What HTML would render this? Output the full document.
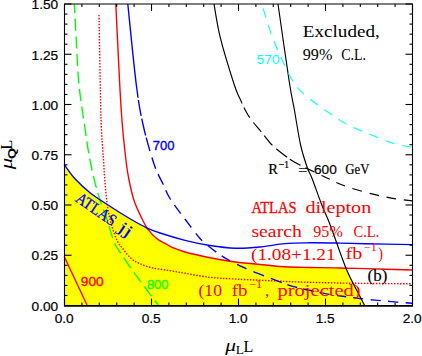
<!DOCTYPE html>
<html><head><meta charset="utf-8"><style>
html,body{margin:0;padding:0;background:#fff;}
svg{display:block;}
text{font-family:"Liberation Sans",sans-serif;}
.se{font-family:"Liberation Serif",serif;}
.mo{font-family:"Liberation Mono",monospace;}
.b{stroke-width:0.35;paint-order:stroke;}
</style></head><body>
<svg width="422" height="356" viewBox="0 0 422 356">
<rect width="422" height="356" fill="#fff"/>
<defs><clipPath id="ca"><path d="M64.20,164.50 C66.00,166.88 70.70,174.10 75.00,178.80 C79.30,183.50 84.12,188.08 90.00,192.70 C95.88,197.32 103.57,202.12 110.30,206.50 C117.03,210.88 124.33,215.45 130.40,219.00 C136.47,222.55 141.77,225.47 146.70,227.80 C151.63,230.13 153.62,230.92 160.00,233.00 C166.38,235.08 176.67,238.22 185.00,240.30 C193.33,242.38 201.60,244.18 210.00,245.50 C218.40,246.82 227.07,247.95 235.40,248.20 C243.73,248.45 251.73,247.77 260.00,247.00 C268.27,246.23 276.67,244.30 285.00,243.60 C293.33,242.90 301.60,242.90 310.00,242.80 C318.40,242.70 326.15,242.83 335.40,243.00 C344.65,243.17 352.73,243.53 365.50,243.80 C378.27,244.07 404.25,244.47 412.00,244.60 L412.3,305 L64.2,305 Z"/></clipPath><clipPath id="cb"><path d="M115.80,4.00 C116.45,17.33 118.62,63.92 119.70,84.00 C120.78,104.08 121.20,111.33 122.30,124.50 C123.40,137.67 125.18,153.75 126.30,163.00 C127.42,172.25 127.68,173.67 129.00,180.00 C130.32,186.33 132.05,194.58 134.20,201.00 C136.35,207.42 139.67,213.85 141.90,218.50 C144.13,223.15 145.08,225.52 147.60,228.90 C150.12,232.28 154.10,236.40 157.00,238.80 C159.90,241.20 162.40,241.83 165.00,243.30 C167.60,244.77 169.27,246.15 172.60,247.60 C175.93,249.05 178.77,250.32 185.00,252.00 C191.23,253.68 201.60,256.03 210.00,257.70 C218.40,259.37 226.15,260.78 235.40,262.00 C244.65,263.22 257.23,264.20 265.50,265.00 C273.77,265.80 277.58,266.38 285.00,266.80 C292.42,267.22 301.67,267.32 310.00,267.50 C318.33,267.68 325.75,267.72 335.00,267.90 C344.25,268.08 352.58,268.25 365.50,268.60 C378.42,268.95 404.67,269.77 412.50,270.00 L412.3,305 L64.2,305 L64.2,4 Z"/></clipPath><clipPath id="cc"><path d="M278.00,4.00 C279.88,17.00 286.57,64.33 289.30,82.00 C292.03,99.67 292.52,99.50 294.40,110.00 C296.28,120.50 298.43,135.33 300.60,145.00 C302.77,154.67 305.52,162.50 307.40,168.00 C309.28,173.50 309.48,171.78 311.90,178.00 C314.32,184.22 318.78,197.30 321.90,205.30 C325.02,213.30 326.53,215.38 330.60,226.00 C334.67,236.62 341.40,257.25 346.30,269.00 C351.20,280.75 356.95,290.42 360.00,296.50 C363.05,302.58 363.83,304.00 364.60,305.50 L64.2,305 L64.2,4 Z"/></clipPath></defs>
<g clip-path="url(#ca)"><g clip-path="url(#cb)"><g clip-path="url(#cc)"><rect x="64" y="4" width="349" height="301" fill="#ffff00"/></g></g></g>
<g fill="none" stroke-width="1.38">
<path d="M74.30,4.00 C74.67,10.83 75.72,31.50 76.50,45.00 C77.28,58.50 77.68,71.75 79.00,85.00 C80.32,98.25 82.57,112.00 84.40,124.50 C86.23,137.00 87.78,148.63 90.00,160.00 C92.22,171.37 94.95,183.07 97.70,192.70 C100.45,202.33 103.83,209.75 106.50,217.80 C109.17,225.85 111.78,235.80 113.70,241.00 C115.62,246.20 114.87,244.08 118.00,249.00 C121.13,253.92 127.93,264.00 132.50,270.50 C137.07,277.00 141.12,282.25 145.40,288.00 C149.68,293.75 156.07,302.17 158.20,305.00" stroke="#00ff00" stroke-dasharray="12.2 5.4" stroke-dashoffset="2.87"/>
<path d="M99.00,15.00 C99.20,25.83 99.83,61.75 100.20,80.00 C100.57,98.25 100.65,111.17 101.20,124.50 C101.75,137.83 102.83,149.92 103.50,160.00 C104.17,170.08 104.50,177.05 105.20,185.00 C105.90,192.95 106.65,201.03 107.70,207.70 C108.75,214.37 109.90,219.45 111.50,225.00 C113.10,230.55 115.30,236.92 117.30,241.00 C119.30,245.08 121.25,246.63 123.50,249.50 C125.75,252.37 128.17,255.87 130.80,258.20 C133.43,260.53 135.67,261.87 139.30,263.50 C142.93,265.13 147.55,266.82 152.60,268.00 C157.65,269.18 164.20,269.72 169.60,270.60 C175.00,271.48 178.27,272.18 185.00,273.30 C191.73,274.42 201.67,276.35 210.00,277.30 C218.33,278.25 225.75,278.47 235.00,279.00 C244.25,279.53 254.67,280.00 265.50,280.50 C276.33,281.00 285.92,281.55 300.00,282.00 C314.08,282.45 331.33,282.90 350.00,283.20 C368.67,283.50 401.67,283.70 412.00,283.80" stroke="#ff0000" stroke-dasharray="1.5 1.5"/>
<path d="M115.80,4.00 C116.45,17.33 118.62,63.92 119.70,84.00 C120.78,104.08 121.20,111.33 122.30,124.50 C123.40,137.67 125.18,153.75 126.30,163.00 C127.42,172.25 127.68,173.67 129.00,180.00 C130.32,186.33 132.05,194.58 134.20,201.00 C136.35,207.42 139.67,213.85 141.90,218.50 C144.13,223.15 145.08,225.52 147.60,228.90 C150.12,232.28 154.10,236.40 157.00,238.80 C159.90,241.20 162.40,241.83 165.00,243.30 C167.60,244.77 169.27,246.15 172.60,247.60 C175.93,249.05 178.77,250.32 185.00,252.00 C191.23,253.68 201.60,256.03 210.00,257.70 C218.40,259.37 226.15,260.78 235.40,262.00 C244.65,263.22 257.23,264.20 265.50,265.00 C273.77,265.80 277.58,266.38 285.00,266.80 C292.42,267.22 301.67,267.32 310.00,267.50 C318.33,267.68 325.75,267.72 335.00,267.90 C344.25,268.08 352.58,268.25 365.50,268.60 C378.42,268.95 404.67,269.77 412.50,270.00" stroke="#ff0000"/>
<path d="M127.80,4.00 C129.20,17.33 133.67,63.92 136.20,84.00 C138.73,104.08 140.03,111.17 143.00,124.50 C145.97,137.83 150.67,154.08 154.00,164.00 C157.33,173.92 160.33,178.25 163.00,184.00 C165.67,189.75 166.35,192.67 170.00,198.50 C173.65,204.33 179.90,212.33 184.90,219.00 C189.90,225.67 196.20,234.08 200.00,238.50 C203.80,242.92 203.90,242.48 207.70,245.50 C211.50,248.52 216.92,252.98 222.80,256.60 C228.68,260.22 236.13,264.00 243.00,267.20 C249.87,270.40 255.72,272.62 264.00,275.80 C272.28,278.98 282.90,283.42 292.70,286.30 C302.50,289.18 314.75,291.48 322.80,293.10 C330.85,294.72 333.80,294.98 341.00,296.00 C348.20,297.02 357.60,298.27 366.00,299.20 C374.40,300.13 383.73,300.92 391.40,301.60 C399.07,302.28 408.57,303.02 412.00,303.30" stroke="#0000ff" stroke-dasharray="94.22 2.14 16.41 2.98 17.21 2.21 13.75 6.66 11.79 5.96 11.81 6.06 10.86 6.78 10.19 6.96 10.61 7.34 9.77 7.40 10.90 6.47 9.83 7.80 10.27 7.53 11.48 7.58 11.43 5.83 10.44 5.99 10.77 5.89 10.31 7.70 9.33 6.75 10.05 7.72 10.05 7.17 10.37 7.32 11.55 0.01"/>
<path d="M64.20,164.50 C66.00,166.88 70.70,174.10 75.00,178.80 C79.30,183.50 84.12,188.08 90.00,192.70 C95.88,197.32 103.57,202.12 110.30,206.50 C117.03,210.88 124.33,215.45 130.40,219.00 C136.47,222.55 141.77,225.47 146.70,227.80 C151.63,230.13 153.62,230.92 160.00,233.00 C166.38,235.08 176.67,238.22 185.00,240.30 C193.33,242.38 201.60,244.18 210.00,245.50 C218.40,246.82 227.07,247.95 235.40,248.20 C243.73,248.45 251.73,247.77 260.00,247.00 C268.27,246.23 276.67,244.30 285.00,243.60 C293.33,242.90 301.60,242.90 310.00,242.80 C318.40,242.70 326.15,242.83 335.40,243.00 C344.65,243.17 352.73,243.53 365.50,243.80 C378.27,244.07 404.25,244.47 412.00,244.60" stroke="#0000ff"/>
<path d="M278.00,4.00 C279.88,17.00 286.57,64.33 289.30,82.00 C292.03,99.67 292.52,99.50 294.40,110.00 C296.28,120.50 298.43,135.33 300.60,145.00 C302.77,154.67 305.52,162.50 307.40,168.00 C309.28,173.50 309.48,171.78 311.90,178.00 C314.32,184.22 318.78,197.30 321.90,205.30 C325.02,213.30 326.53,215.38 330.60,226.00 C334.67,236.62 341.40,257.25 346.30,269.00 C351.20,280.75 356.95,290.42 360.00,296.50 C363.05,302.58 363.83,304.00 364.60,305.50" stroke="#000" stroke-width="1.15"/>
<path d="M214.00,4.00 C215.05,9.62 216.97,24.37 220.30,37.70 C223.63,51.03 230.72,73.82 234.00,84.00 C237.28,94.18 237.88,94.02 240.00,98.80 C242.12,103.58 244.60,108.92 246.70,112.70 C248.80,116.48 250.30,118.45 252.60,121.50 C254.90,124.55 257.60,127.45 260.50,131.00 C263.40,134.55 267.13,139.63 270.00,142.80 C272.87,145.97 274.32,147.22 277.70,150.00 C281.08,152.78 286.75,157.08 290.30,159.50 C293.85,161.92 294.82,162.33 299.00,164.50 C303.18,166.67 310.57,170.17 315.40,172.50 C320.23,174.83 323.40,176.37 328.00,178.50 C332.60,180.63 337.35,183.17 343.00,185.30 C348.65,187.43 355.90,189.58 361.90,191.30 C367.90,193.02 373.32,194.33 379.00,195.60 C384.68,196.87 390.42,198.02 396.00,198.90 C401.58,199.78 409.75,200.57 412.50,200.90" stroke="#000" stroke-width="1.15" stroke-dasharray="103.67 4.28 11.87 6.13 12.19 4.91 12.40 5.59 13.21 3.54 12.49 5.46 9.90 7.76 9.35 7.21 9.39 7.67 9.99 7.81 9.82 7.56 9.76 7.81 13.81 0.01"/>
<path d="M263.00,8.00 C263.67,10.17 265.38,16.00 267.00,21.00 C268.62,26.00 270.40,32.00 272.70,38.00 C275.00,44.00 277.55,50.00 280.80,57.00 C284.05,64.00 288.83,74.28 292.20,80.00 C295.57,85.72 296.87,87.22 301.00,91.30 C305.13,95.38 311.77,100.55 317.00,104.50 C322.23,108.45 327.40,111.67 332.40,115.00 C337.40,118.33 341.35,121.53 347.00,124.50 C352.65,127.47 358.90,129.75 366.30,132.80 C373.70,135.85 383.78,140.38 391.40,142.80 C399.02,145.22 408.57,146.55 412.00,147.30" stroke="#00ffff" stroke-width="1.1" stroke-dasharray="9.6 7.7" stroke-dashoffset="-0.52"/>
<path d="M64.20,256.50 C68.00,264.58 83.20,296.92 87.00,305.00" stroke="#ff0000"/>
</g>
<g stroke="#000" stroke-width="1.1" fill="none">
<path d="M64.5,3.45 V306.1 M412.5,3.45 V306.1 M64.5,4.0 H412.5"/><path d="M63.95,305.85 H413.05" stroke-width="1.7"/>
<line x1="64.50" y1="305.50" x2="64.50" y2="298.50"/><line x1="64.50" y1="4.00" x2="64.50" y2="11.00"/><line x1="81.90" y1="305.50" x2="81.90" y2="302.50"/><line x1="81.90" y1="4.00" x2="81.90" y2="7.00"/><line x1="99.30" y1="305.50" x2="99.30" y2="302.50"/><line x1="99.30" y1="4.00" x2="99.30" y2="7.00"/><line x1="116.70" y1="305.50" x2="116.70" y2="302.50"/><line x1="116.70" y1="4.00" x2="116.70" y2="7.00"/><line x1="134.10" y1="305.50" x2="134.10" y2="302.50"/><line x1="134.10" y1="4.00" x2="134.10" y2="7.00"/><line x1="151.50" y1="305.50" x2="151.50" y2="298.50"/><line x1="151.50" y1="4.00" x2="151.50" y2="11.00"/><line x1="168.90" y1="305.50" x2="168.90" y2="302.50"/><line x1="168.90" y1="4.00" x2="168.90" y2="7.00"/><line x1="186.30" y1="305.50" x2="186.30" y2="302.50"/><line x1="186.30" y1="4.00" x2="186.30" y2="7.00"/><line x1="203.70" y1="305.50" x2="203.70" y2="302.50"/><line x1="203.70" y1="4.00" x2="203.70" y2="7.00"/><line x1="221.10" y1="305.50" x2="221.10" y2="302.50"/><line x1="221.10" y1="4.00" x2="221.10" y2="7.00"/><line x1="238.50" y1="305.50" x2="238.50" y2="298.50"/><line x1="238.50" y1="4.00" x2="238.50" y2="11.00"/><line x1="255.90" y1="305.50" x2="255.90" y2="302.50"/><line x1="255.90" y1="4.00" x2="255.90" y2="7.00"/><line x1="273.30" y1="305.50" x2="273.30" y2="302.50"/><line x1="273.30" y1="4.00" x2="273.30" y2="7.00"/><line x1="290.70" y1="305.50" x2="290.70" y2="302.50"/><line x1="290.70" y1="4.00" x2="290.70" y2="7.00"/><line x1="308.10" y1="305.50" x2="308.10" y2="302.50"/><line x1="308.10" y1="4.00" x2="308.10" y2="7.00"/><line x1="325.50" y1="305.50" x2="325.50" y2="298.50"/><line x1="325.50" y1="4.00" x2="325.50" y2="11.00"/><line x1="342.90" y1="305.50" x2="342.90" y2="302.50"/><line x1="342.90" y1="4.00" x2="342.90" y2="7.00"/><line x1="360.30" y1="305.50" x2="360.30" y2="302.50"/><line x1="360.30" y1="4.00" x2="360.30" y2="7.00"/><line x1="377.70" y1="305.50" x2="377.70" y2="302.50"/><line x1="377.70" y1="4.00" x2="377.70" y2="7.00"/><line x1="395.10" y1="305.50" x2="395.10" y2="302.50"/><line x1="395.10" y1="4.00" x2="395.10" y2="7.00"/><line x1="412.50" y1="305.50" x2="412.50" y2="298.50"/><line x1="412.50" y1="4.00" x2="412.50" y2="11.00"/><line x1="64.50" y1="305.50" x2="71.50" y2="305.50"/><line x1="412.50" y1="305.50" x2="405.50" y2="305.50"/><line x1="64.50" y1="295.45" x2="67.50" y2="295.45"/><line x1="412.50" y1="295.45" x2="409.50" y2="295.45"/><line x1="64.50" y1="285.40" x2="67.50" y2="285.40"/><line x1="412.50" y1="285.40" x2="409.50" y2="285.40"/><line x1="64.50" y1="275.35" x2="67.50" y2="275.35"/><line x1="412.50" y1="275.35" x2="409.50" y2="275.35"/><line x1="64.50" y1="265.30" x2="67.50" y2="265.30"/><line x1="412.50" y1="265.30" x2="409.50" y2="265.30"/><line x1="64.50" y1="255.25" x2="71.50" y2="255.25"/><line x1="412.50" y1="255.25" x2="405.50" y2="255.25"/><line x1="64.50" y1="245.20" x2="67.50" y2="245.20"/><line x1="412.50" y1="245.20" x2="409.50" y2="245.20"/><line x1="64.50" y1="235.15" x2="67.50" y2="235.15"/><line x1="412.50" y1="235.15" x2="409.50" y2="235.15"/><line x1="64.50" y1="225.10" x2="67.50" y2="225.10"/><line x1="412.50" y1="225.10" x2="409.50" y2="225.10"/><line x1="64.50" y1="215.05" x2="67.50" y2="215.05"/><line x1="412.50" y1="215.05" x2="409.50" y2="215.05"/><line x1="64.50" y1="205.00" x2="71.50" y2="205.00"/><line x1="412.50" y1="205.00" x2="405.50" y2="205.00"/><line x1="64.50" y1="194.95" x2="67.50" y2="194.95"/><line x1="412.50" y1="194.95" x2="409.50" y2="194.95"/><line x1="64.50" y1="184.90" x2="67.50" y2="184.90"/><line x1="412.50" y1="184.90" x2="409.50" y2="184.90"/><line x1="64.50" y1="174.85" x2="67.50" y2="174.85"/><line x1="412.50" y1="174.85" x2="409.50" y2="174.85"/><line x1="64.50" y1="164.80" x2="67.50" y2="164.80"/><line x1="412.50" y1="164.80" x2="409.50" y2="164.80"/><line x1="64.50" y1="154.75" x2="71.50" y2="154.75"/><line x1="412.50" y1="154.75" x2="405.50" y2="154.75"/><line x1="64.50" y1="144.70" x2="67.50" y2="144.70"/><line x1="412.50" y1="144.70" x2="409.50" y2="144.70"/><line x1="64.50" y1="134.65" x2="67.50" y2="134.65"/><line x1="412.50" y1="134.65" x2="409.50" y2="134.65"/><line x1="64.50" y1="124.60" x2="67.50" y2="124.60"/><line x1="412.50" y1="124.60" x2="409.50" y2="124.60"/><line x1="64.50" y1="114.55" x2="67.50" y2="114.55"/><line x1="412.50" y1="114.55" x2="409.50" y2="114.55"/><line x1="64.50" y1="104.50" x2="71.50" y2="104.50"/><line x1="412.50" y1="104.50" x2="405.50" y2="104.50"/><line x1="64.50" y1="94.45" x2="67.50" y2="94.45"/><line x1="412.50" y1="94.45" x2="409.50" y2="94.45"/><line x1="64.50" y1="84.40" x2="67.50" y2="84.40"/><line x1="412.50" y1="84.40" x2="409.50" y2="84.40"/><line x1="64.50" y1="74.35" x2="67.50" y2="74.35"/><line x1="412.50" y1="74.35" x2="409.50" y2="74.35"/><line x1="64.50" y1="64.30" x2="67.50" y2="64.30"/><line x1="412.50" y1="64.30" x2="409.50" y2="64.30"/><line x1="64.50" y1="54.25" x2="71.50" y2="54.25"/><line x1="412.50" y1="54.25" x2="405.50" y2="54.25"/><line x1="64.50" y1="44.20" x2="67.50" y2="44.20"/><line x1="412.50" y1="44.20" x2="409.50" y2="44.20"/><line x1="64.50" y1="34.15" x2="67.50" y2="34.15"/><line x1="412.50" y1="34.15" x2="409.50" y2="34.15"/><line x1="64.50" y1="24.10" x2="67.50" y2="24.10"/><line x1="412.50" y1="24.10" x2="409.50" y2="24.10"/><line x1="64.50" y1="14.05" x2="67.50" y2="14.05"/><line x1="412.50" y1="14.05" x2="409.50" y2="14.05"/><line x1="64.50" y1="4.00" x2="71.50" y2="4.00"/><line x1="412.50" y1="4.00" x2="405.50" y2="4.00"/>
</g>
<g font-size="13.7" fill="#000" stroke="#000" stroke-width="0.2"><text x="64.2" y="322.7" text-anchor="middle">0.0</text><text x="151.2" y="322.7" text-anchor="middle">0.5</text><text x="238.2" y="322.7" text-anchor="middle">1.0</text><text x="325.2" y="322.7" text-anchor="middle">1.5</text><text x="412.2" y="322.7" text-anchor="middle">2.0</text><text x="58.2" y="310.7" text-anchor="end">0.00</text><text x="58.2" y="260.4" text-anchor="end">0.25</text><text x="58.2" y="210.2" text-anchor="end">0.50</text><text x="58.2" y="159.9" text-anchor="end">0.75</text><text x="58.2" y="109.7" text-anchor="end">1.00</text><text x="58.2" y="59.5" text-anchor="end">1.25</text><text x="58.2" y="9.2" text-anchor="end">1.50</text></g>
<g font-size="13" class="b">
<text x="80.8" y="286.2" fill="#ff0000" stroke="#ff0000" textLength="22.8" lengthAdjust="spacingAndGlyphs">900</text>
<text x="146.9" y="288.6" fill="#00ff00" stroke="#00ff00">800</text>
<text x="152.7" y="150" fill="#0000ff" stroke="#0000ff">700</text>
<text x="256.6" y="63.5" fill="#00ffff" textLength="23" lengthAdjust="spacingAndGlyphs">570</text>
</g>
<g font-size="17" fill="#000" class="se">
<text class="se" x="302.8" y="36.8" textLength="77" lengthAdjust="spacingAndGlyphs">Excluded,</text>
<text class="se" x="302.8" y="59.5" textLength="29.6" lengthAdjust="spacingAndGlyphs">99%</text>
<text class="se" x="341.2" y="59.5" textLength="24.9" lengthAdjust="spacingAndGlyphs">C.L.</text>
</g>
<g fill="#ff0000" font-size="16.8">
<text class="se" x="251.4" y="213.3" textLength="45.1" lengthAdjust="spacingAndGlyphs" stroke="#ff0000" stroke-width="0.3">ATLAS</text>
<text class="se" x="305.4" y="213.3" textLength="65.8" lengthAdjust="spacingAndGlyphs">dilepton</text>
<text class="se" x="251.4" y="236.8" textLength="50.5" lengthAdjust="spacingAndGlyphs">search</text>
<text class="se" x="313.3" y="236.8" textLength="29.5" lengthAdjust="spacingAndGlyphs">95%</text>
<text class="se" x="353.4" y="236.8" textLength="26" lengthAdjust="spacingAndGlyphs">C.L.</text>
<text class="se" x="251" y="259.6" textLength="84.6" lengthAdjust="spacingAndGlyphs">(1.08+1.21</text>
<text class="se" x="345.6" y="259.4" textLength="16.7" lengthAdjust="spacingAndGlyphs">fb</text>
<text class="se" x="364" y="251" font-size="12" textLength="12.8" lengthAdjust="spacingAndGlyphs">−1</text>
<text class="se" x="378.3" y="259.4" textLength="4.7" lengthAdjust="spacingAndGlyphs">)</text>
<text class="se" x="198.5" y="296" textLength="23.5" lengthAdjust="spacingAndGlyphs">(10</text>
<text class="se" x="231.8" y="296" textLength="15.8" lengthAdjust="spacingAndGlyphs">fb</text>
<text class="se" x="249.2" y="287.6" font-size="12" textLength="13" lengthAdjust="spacingAndGlyphs">−1</text>
<text class="se" x="265" y="296">,</text>
<text class="se" x="277.5" y="296" textLength="83.2" lengthAdjust="spacingAndGlyphs">projected)</text>
</g>
<text class="se" x="367.5" y="281" font-size="16" fill="#000" stroke="#000" stroke-width="0.15" textLength="19.8" lengthAdjust="spacingAndGlyphs">(b)</text>
<g fill="#000" stroke="#000" stroke-width="0.2"><text class="se" x="268.3" y="174.2" font-size="14.5">R</text><text class="se" x="278.3" y="168.3" font-size="11" textLength="11" lengthAdjust="spacingAndGlyphs">−1</text><text class="se" x="298.2" y="174.6" font-size="15" textLength="9" lengthAdjust="spacingAndGlyphs">=</text><text x="314" y="174.2" font-size="13" textLength="22.8" lengthAdjust="spacingAndGlyphs" stroke="#000" stroke-width="0.2">600</text><text class="se" x="345.3" y="174.2" font-size="14.5" textLength="24.2" lengthAdjust="spacingAndGlyphs">GeV</text></g>
<g transform="translate(74.5,200.8) rotate(34.5)" font-size="16.5" fill="#0000ff" stroke="#0000ff" stroke-width="0.15"><text class="se" x="0" y="0" textLength="45.5" lengthAdjust="spacingAndGlyphs" stroke-width="0.3">ATLAS</text><text class="se" x="52" y="0" textLength="13" lengthAdjust="spacingAndGlyphs">jj</text></g>
<g fill="#000"><text class="se" x="225.3" y="351.4" font-size="16.5" font-style="italic" textLength="10.8" lengthAdjust="spacingAndGlyphs">μ</text><text class="se" x="235.8" y="354.2" font-size="12" textLength="8.2" lengthAdjust="spacingAndGlyphs">L</text><text class="se" x="243.4" y="351.6" font-size="17" textLength="9.8" lengthAdjust="spacingAndGlyphs">L</text></g>
<g fill="#000" transform="translate(11.9,169.5) rotate(-90)"><text class="se" x="0.2" y="0" font-size="17.5" font-style="italic" textLength="11.6" lengthAdjust="spacingAndGlyphs">μ</text><text x="10.6" y="4.3" font-size="10.5" font-weight="bold" textLength="11" lengthAdjust="spacingAndGlyphs">Q</text><text class="se" x="19.7" y="0" font-size="17" textLength="10" lengthAdjust="spacingAndGlyphs">L</text></g>
</svg>
</body></html>
